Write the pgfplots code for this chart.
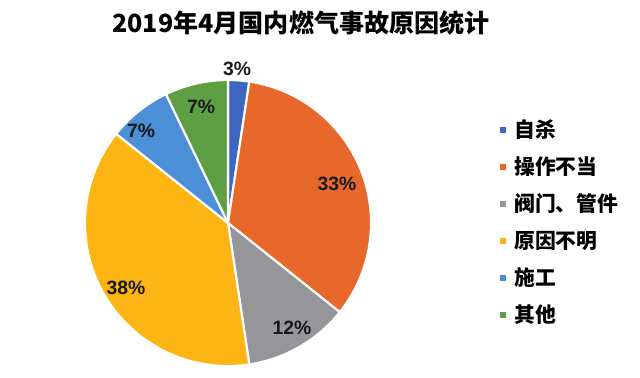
\documentclass[border=0pt]{standalone}
\usepackage{pgfplots}
\usepackage{pgfplotstable}
\pgfplotsset{compat=1.18}
\usepackage{fontspec}
\setmainfont{Liberation Sans}
\newfontfamily\cjk{Noto Sans CJK SC}
\definecolor{cA}{HTML}{3F67C1}
\definecolor{cB}{HTML}{E8682B}
\definecolor{cC}{HTML}{95959A}
\definecolor{cD}{HTML}{FDB513}
\definecolor{cE}{HTML}{4B8FD6}
\definecolor{cF}{HTML}{5F9F43}
\pgfplotstableread{
val pct col lx ly ry name
1 3 cA 237 69 130 自杀
14 33 cB 337 184 167 操作不当
5 12 cC 292 328 204 阀门、管件
16 38 cD 126 288 241 原因不明
3 7 cE 141 131 278 施工
3 7 cF 201 107 315 其他
}\piedata
\begin{document}
\begin{tikzpicture}
\begin{axis}[
  scale only axis, x=0.75pt, y=0.75pt,
  xmin=0, xmax=640, ymin=0, ymax=377,
  hide axis, clip=false]
\path (axis cs:0,0) rectangle (axis cs:640,377);
\def\total{0}
\pgfplotsforeachungrouped \i in {0,...,5}{%
  \pgfplotstablegetelem{\i}{val}\of\piedata
  \pgfmathsetmacro\total{\total+\pgfplotsretval}%
}
\def\cum{0}
\pgfplotsforeachungrouped \i in {0,...,5}{%
  \pgfplotstablegetelem{\i}{val}\of\piedata \let\v\pgfplotsretval
  \pgfmathsetmacro\a{90-360*\cum/\total}%
  \pgfmathsetmacro\b{90-360*(\cum+\v)/\total}%
  \pgfmathsetmacro\cum{\cum+\v}%
  \pgfplotstablegetelem{\i}{col}\of\piedata \let\c\pgfplotsretval
  \pgfplotstablegetelem{\i}{pct}\of\piedata \let\p\pgfplotsretval
  \pgfplotstablegetelem{\i}{lx}\of\piedata \let\lx\pgfplotsretval
  \pgfplotstablegetelem{\i}{ly}\of\piedata \let\ly\pgfplotsretval
  \pgfplotstablegetelem{\i}{ry}\of\piedata \let\ry\pgfplotsretval
  \pgfplotstablegetelem{\i}{name}\of\piedata \let\nm\pgfplotsretval
  \edef\temp{%
    \noexpand\fill[\c, draw=white, line width=1.6pt, line join=round]
      (axis cs:228,154) -- ++(\a:107.25pt) arc[start angle=\a, end angle=\b, radius=107.25pt] -- cycle;
    \noexpand\node[font=\noexpand\fontsize{14.5}{16}\noexpand\selectfont\noexpand\bfseries, text=black!90]
      at (axis cs:\lx,377-\ly) {\p\noexpand\%};
    \noexpand\fill[\c] (axis cs:503,377-\ry) ++(-2.6pt,-2.6pt) rectangle ++(5.2pt,5.2pt);
    \noexpand\node[anchor=west, inner sep=0pt, font=\noexpand\cjk\noexpand\fontsize{15.6}{17}\noexpand\selectfont\noexpand\bfseries]
      at (axis cs:514,377-\ry) {\nm};
  }%
  \temp
}
\node[font=\cjk\fontsize{18.8}{22}\selectfont\bfseries] at (axis cs:301,354) {2019年4月国内燃气事故原因统计};
\end{axis}
\end{tikzpicture}
\end{document}
